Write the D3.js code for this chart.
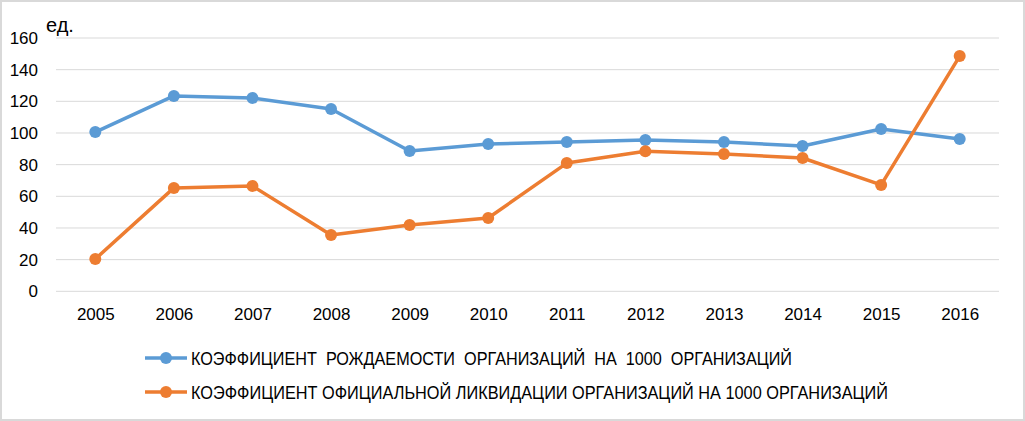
<!DOCTYPE html>
<html>
<head>
<meta charset="utf-8">
<script src="https://cdn.jsdelivr.net/npm/d3@7"></script>
<style>
  body { margin: 0; background: #fff; }
  text { font-family: "Liberation Sans", Arial, sans-serif; fill: #000; }
</style>
</head>
<body>
<div id="chart"></div>
<script>
// Chart data
const years = ["2005", "2006", "2007", "2008", "2009", "2010", "2011", "2012", "2013", "2014", "2015", "2016"];
const birthRate = [100.6, 123.4, 122.1, 115.2, 88.6, 93.0, 94.3, 95.6, 94.3, 91.8, 102.5, 96.2];
const liquidationRate = [20.4, 65.3, 66.5, 35.6, 41.9, 46.3, 81.0, 88.4, 86.7, 84.2, 67.2, 148.6];
const yTicks = [0, 20, 40, 60, 80, 100, 120, 140, 160];
const seriesNames = [
    "КОЭФФИЦИЕНТ  РОЖДАЕМОСТИ  ОРГАНИЗАЦИЙ  НА  1000  ОРГАНИЗАЦИЙ",
    "КОЭФФИЦИЕНТ ОФИЦИАЛЬНОЙ ЛИКВИДАЦИИ ОРГАНИЗАЦИЙ НА 1000 ОРГАНИЗАЦИЙ"
];
const seriesColors = ["#5B9BD5", "#ED7D31"];

const width = 1025;
const height = 421;
const margin = { top: 38, right: 26, bottom: 130, left: 56 };

const svg = d3.select('#chart').append('svg')
    .attr('width', width)
    .attr('height', height);

// Outer frame
svg.append('rect')
    .attr('x', 1).attr('y', 1)
    .attr('width', width - 2).attr('height', height - 2)
    .attr('fill', '#fff')
    .attr('stroke', '#d9d9d9')
    .attr('stroke-width', 2);

const x = d3.scalePoint()
    .domain(years)
    .range([margin.left, width - margin.right])
    .padding(0.5);

const y = d3.scaleLinear()
    .domain([0, 160])
    .range([291.3, margin.top]);

// Gridlines
svg.append('g')
    .selectAll('line')
    .data(yTicks)
    .enter().append('line')
    .attr('x1', margin.left)
    .attr('x2', width - margin.right)
    .attr('y1', d => y(d))
    .attr('y2', d => y(d))
    .attr('stroke', '#d9d9d9')
    .attr('stroke-width', 1);

// Y axis labels
const yAxis = svg.append('g')
    .attr('transform', `translate(${margin.left - 18},0)`)
    .call(d3.axisLeft(y).tickValues(yTicks).tickSize(0).tickPadding(0));
yAxis.select('.domain').remove();
yAxis.selectAll('text')
    .attr('font-family', '"Liberation Sans", Arial, sans-serif')
    .attr('font-size', 17)
    .attr('fill', '#000');

// X axis labels
const xAxis = svg.append('g')
    .attr('transform', `translate(0,${y(0)})`)
    .call(d3.axisBottom(x).tickSize(0).tickPadding(17));
xAxis.select('.domain').remove();
xAxis.selectAll('text')
    .attr('font-family', '"Liberation Sans", Arial, sans-serif')
    .attr('font-size', 17)
    .attr('fill', '#000');

// Unit label
svg.append('text')
    .attr('x', 46)
    .attr('y', 32)
    .attr('font-size', 20)
    .text('ед.');

// Lines and markers
const line = d3.line()
    .x((d, i) => x(years[i]))
    .y(d => y(d));

[birthRate, liquidationRate].forEach((values, s) => {
    svg.append('path')
        .datum(values)
        .attr('fill', 'none')
        .attr('stroke', seriesColors[s])
        .attr('stroke-width', 3.5)
        .attr('stroke-linejoin', 'round')
        .attr('d', line);

    svg.append('g')
        .selectAll('circle')
        .data(values)
        .enter().append('circle')
        .attr('cx', (d, i) => x(years[i]))
        .attr('cy', d => y(d))
        .attr('r', 6)
        .attr('fill', seriesColors[s]);
});

// Legend
const legendRows = [358, 392];
const legendEnds = [792, 888];
seriesNames.forEach((name, s) => {
    const g = svg.append('g').attr('transform', `translate(0,${legendRows[s]})`);
    g.append('line')
        .attr('x1', 145).attr('x2', 187)
        .attr('y1', 0).attr('y2', 0)
        .attr('stroke', seriesColors[s])
        .attr('stroke-width', 3.5);
    g.append('circle')
        .attr('cx', 166).attr('cy', 0)
        .attr('r', 6)
        .attr('fill', seriesColors[s]);
    g.append('text')
        .attr('x', 191)
        .attr('y', 7)
        .attr('font-family', '"Liberation Sans Narrow", "Liberation Sans", Arial, sans-serif')
        .attr('font-size', 19)
        .attr('textLength', legendEnds[s] - 191)
        .attr('lengthAdjust', 'spacingAndGlyphs')
        .style('white-space', 'pre')
        .text(name);
});
</script>
</body>
</html>
